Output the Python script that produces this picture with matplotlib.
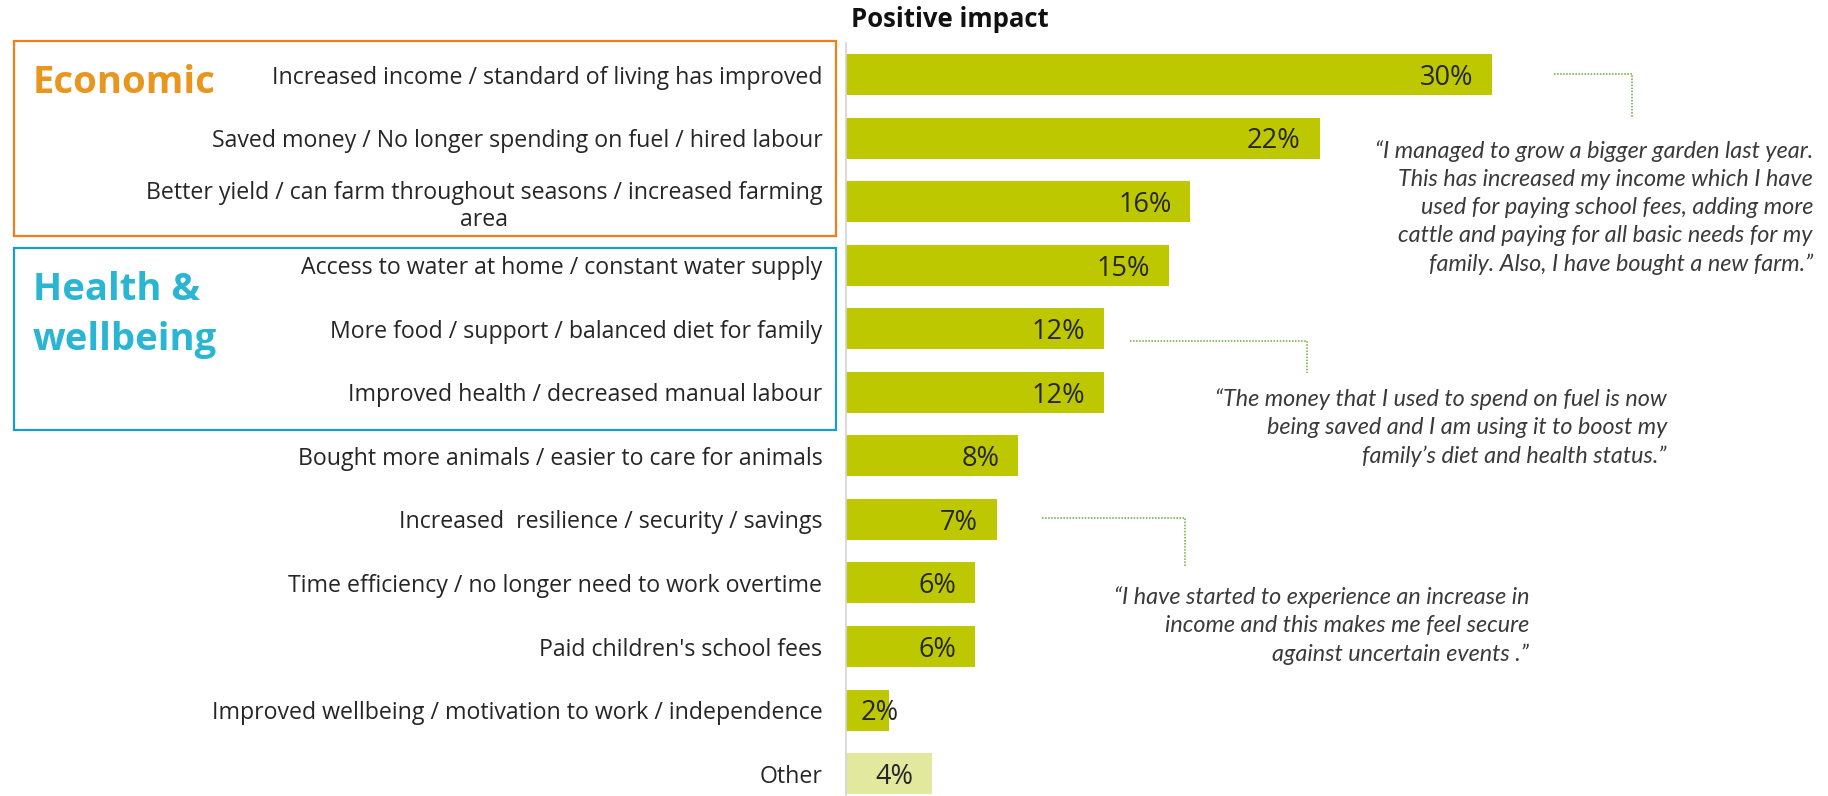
import matplotlib.pyplot as plt
from matplotlib.patches import Rectangle
from matplotlib.lines import Line2D

plt.rcParams['font.family'] = ['Open Sans', 'DejaVu Sans']

categories = [
    "Increased income / standard of living has improved",
    "Saved money / No longer spending on fuel / hired labour",
    "Better yield / can farm throughout seasons / increased farming\narea",
    "Access to water at home / constant water supply",
    "More food / support / balanced diet for family",
    "Improved health / decreased manual labour",
    "Bought more animals / easier to care for animals",
    "Increased  resilience / security / savings",
    "Time efficiency / no longer need to work overtime",
    "Paid children's school fees",
    "Improved wellbeing / motivation to work / independence",
    "Other",
]
values = [30, 22, 16, 15, 12, 12, 8, 7, 6, 6, 2, 4]

quotes = [
    "\u201cI managed to grow a bigger garden last year.\nThis has increased my income which I have\n"
    "used for paying school fees, adding more\ncattle and paying for all basic needs for my\n"
    "family. Also, I have bought a new farm.\u201d",
    "\u201cThe money that I used to spend on fuel is now\nbeing saved and I am using it to boost my\n"
    "family\u2019s diet and health status.\u201d",
    "\u201cI have started to experience an increase in\nincome and this makes me feel secure\n"
    "against uncertain events .\u201d",
]

BAR = "#BDC800"
OTHER = "#E3E89F"
TXT = "#262626"

W, H = 1828, 796
fig = plt.figure(figsize=(W / 100, H / 100), dpi=100)


def fx(x):
    return x / W


def fy(y):
    return 1 - y / H


x0 = 846
px_per_pct = 21.53
ax = fig.add_axes([fx(x0), 0, 1 - fx(x0), 1 - 43 / H])
colors = [BAR] * (len(values) - 1) + [OTHER]
ax.barh(range(len(values)), values, height=0.645, color=colors)
ax.set_xlim(0, (W - x0) / px_per_pct)
ax.set_ylim((H - 74.5) / 63.55, -0.5)

# value labels sit just inside the bar end (small bars: start near the axis)
for i, v in enumerate(values):
    if v >= 3:
        ax.text(v - 0.88, i + 0.05, f"{v}%", ha="right", va="center", fontsize=19.5, color=TXT)
    else:
        ax.text(0.7, i + 0.05, f"{v}%", ha="left", va="center", fontsize=19.5, color=TXT)

ax.set_xticks([])
ax.set_yticks(range(len(categories)), labels=categories, fontsize=16.7, color=TXT)
for lab in ax.get_yticklabels():
    lab.set_multialignment("center")
ax.tick_params(axis="y", length=0, pad=17)
for s in ["top", "right", "bottom"]:
    ax.spines[s].set_visible(False)
ax.spines["left"].set_color("#d4d4d4")
ax.spines["left"].set_linewidth(1.2)

fig.text(fx(851), fy(27), "Positive impact", fontsize=18.5, fontweight="bold",
         color="#111111", va="baseline")

# group boxes
fig.add_artist(Rectangle((fx(14), fy(236)), fx(822), 195 / H, transform=fig.transFigure,
                         fill=False, edgecolor="#F07F1A", linewidth=1.6))
fig.add_artist(Rectangle((fx(14), fy(430)), fx(822), 182 / H, transform=fig.transFigure,
                         fill=False, edgecolor="#1A9DC9", linewidth=1.6))
fig.text(fx(33), fy(93), "Economic", fontsize=27.5, fontweight="bold", color="#E8961E",
         va="baseline")
fig.text(fx(33), fy(300), "Health &", fontsize=27.5, fontweight="bold", color="#2AB6D2",
         va="baseline")
fig.text(fx(33), fy(350), "wellbeing", fontsize=27.5, fontweight="bold", color="#2AB6D2",
         va="baseline")

# quotes
qfont = ['Lato', 'DejaVu Sans']
fig.text(fx(1813), fy(207.5), quotes[0], ha="right", va="center", fontsize=16.8,
         style="italic", color="#3a3a3a", linespacing=1.42, family=qfont)
fig.text(fx(1667), fy(427.7), quotes[1], ha="right", va="center", fontsize=16.8,
         style="italic", color="#3a3a3a", linespacing=1.42, family=qfont)
fig.text(fx(1529), fy(625.7), quotes[2], ha="right", va="center", fontsize=16.8,
         style="italic", color="#3a3a3a", linespacing=1.42, family=qfont)

# dotted connectors
for (xa, xb, ya, yb) in [(1554, 1632, 74, 117), (1130, 1307, 341, 373), (1042, 1185, 518, 566)]:
    fig.add_artist(Line2D([fx(xa), fx(xb), fx(xb)], [fy(ya), fy(ya), fy(yb)],
                          transform=fig.transFigure, color="#6BAA3A", linewidth=1.1,
                          linestyle=(0, (1, 1))))

fig.savefig("out.png", dpi=100)
